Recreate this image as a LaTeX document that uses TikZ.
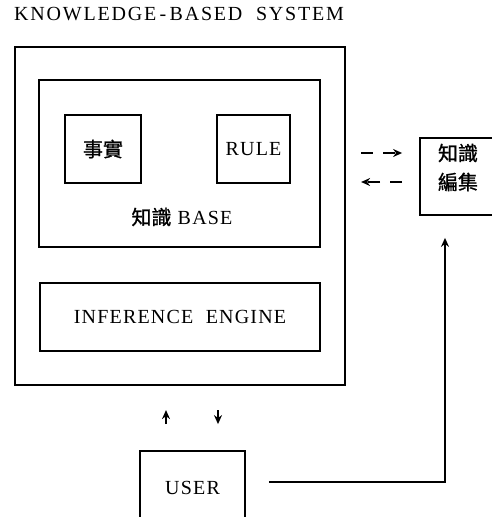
\documentclass[tikz,border=0pt]{standalone}
\usepackage{fontspec}
\setmainfont{Liberation Serif}[LetterSpace=6]
\newfontfamily\cjk{Noto Sans CJK TC}[FakeBold=1.2]
\usetikzlibrary{arrows.meta}

\begin{document}
\begin{tikzpicture}[x=1pt,y=-1pt,
	every node/.style={font=\fontsize{20}{22}\selectfont},
	box/.style={draw,line width=1.8pt,inner sep=0pt},
	link/.style={line width=1.3pt,-{Stealth[length=9pt,width=8pt]}},
	dlink/.style={link,dash pattern=on 12pt off 10pt}]
    \useasboundingbox (0,0) rectangle (492,517);
    \node[anchor=west,inner sep=0pt] (title) at (14,14) {\addfontfeature{LetterSpace=9}KNOWLEDGE\,-\,BASED\ \ SYSTEM};
    % system and its parts
    \node[box,line width=2.2pt,minimum width=330pt,minimum height=338pt] (kbs) at (180,216) {};
    \node[box,minimum width=281pt,minimum height=167pt] (kbase) at (179.5,163.5) {};
    \node[box,minimum width=76pt,minimum height=68pt] (fact) at (103,149) {\cjk 事實};
    \node[box,minimum width=73pt,minimum height=68pt] (rule) at (253.5,149) {RULE};
    \node (kbtext) at (182,217) {{\cjk 知識} BASE};
    \node[box,minimum width=280pt,minimum height=68pt] (infer) at (180,317) {INFERENCE\ \ ENGINE};
    % editor, user
    \node[box,minimum width=95pt,minimum height=77pt] (edit) at (467.5,176.5) {};
    \node (editA) at (458,153) {\cjk 知識};
    \node (editB) at (458,182) {\cjk 編集};
    \node[box,minimum width=105pt,minimum height=74pt] (user) at (192.5,488) {USER};
    \coordinate (up) at (166,0);
    \coordinate (down) at (218,0);
    \coordinate (ret) at (445,0);

    \draw[dlink,shorten <=15pt,shorten >=17pt] (kbs.east |- editA) -- (edit.west |- editA);
    \draw[dlink,shorten <=17pt,shorten >=15pt] (edit.west |- editB) -- (kbs.east |- editB);
    \draw[link,shorten <=26pt,shorten >=24pt] (user.north -| up) -- (kbs.south -| up);
    \draw[link,shorten <=24pt,shorten >=26pt] (kbs.south -| down) -- (user.north -| down);
    \draw[link,shorten >=22pt] ([shift={(23,-6)}]user.east) -| (edit.south -| ret);
\end{tikzpicture}
\end{document}
